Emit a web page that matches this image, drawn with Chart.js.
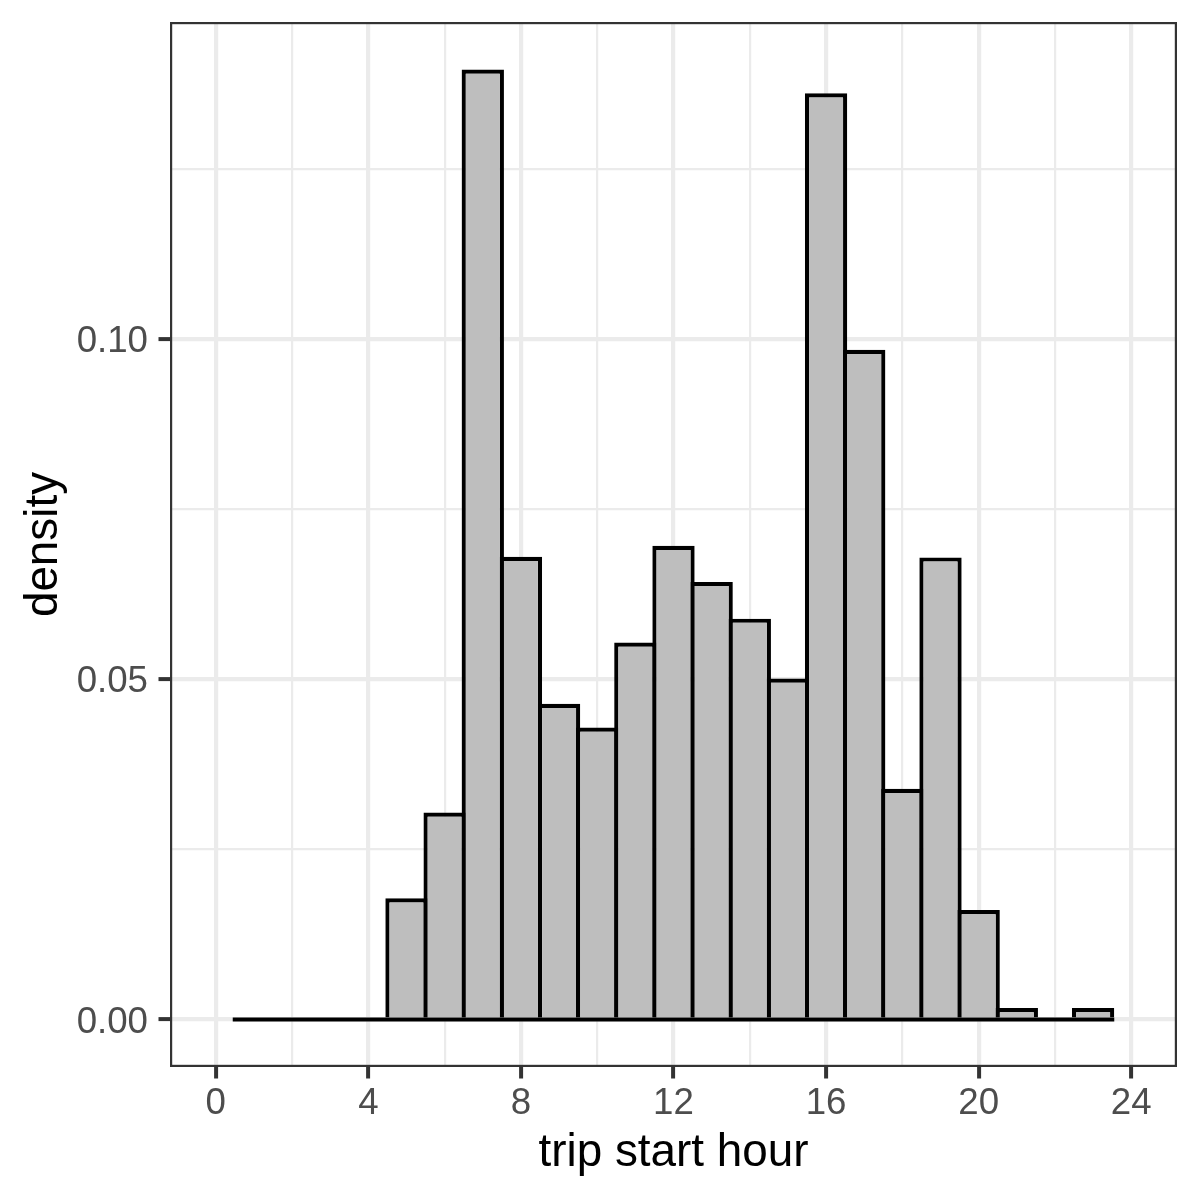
<!DOCTYPE html>
<html>
<head>
<meta charset="utf-8">
<title>trip start hour</title>
<script src="https://cdn.jsdelivr.net/npm/chart.js@4.4.1/dist/chart.umd.min.js"></script>
<style>
    html, body { margin: 0; padding: 0; background: #ffffff; }
    #wrap { width: 1200px; height: 1200px; }
</style>
</head>
<body>
<div id="wrap"><canvas id="chartHoras" width="1200" height="1200"></canvas></div>
<script>
// ==========================================
// DATA (histogram, binwidth = 1 hour)
// ==========================================
const hours = [1, 2, 3, 4, 5, 6, 7, 8, 9, 10, 11, 12, 13, 14, 15, 16, 17, 18, 19, 20, 21, 22, 23];
const density = [0, 0, 0, 0, 0.0178, 0.0304, 0.1396, 0.0680, 0.0464, 0.0429, 0.0554, 0.0696,
                 0.0643, 0.0589, 0.0501, 0.1361, 0.0984, 0.0339, 0.0679, 0.0161, 0.0017, 0, 0.0017];
const binWidth = 1;
const xTicksMajor = [0, 4, 8, 12, 16, 20, 24];
const yTicksMajor = [0, 0.05, 0.10];

// theme colours (ggplot theme_bw look)
const colorFill = '#bebebe';
const colorLine = '#000000';
const colorGrid = '#ebebeb';
const colorAxis = '#333333';
const colorTickText = '#4d4d4d';
const fontFamily = '"Liberation Sans", Arial, sans-serif';
const lineW = 4.2;

function isMajor(value, list) {
    return list.some(t => Math.abs(t - value) < 1e-9);
}

// panel border drawn on top of the bars
const panelBorder = {
    id: 'panelBorder',
    afterDatasetsDraw(chart) {
        const { ctx, chartArea: a } = chart;
        ctx.save();
        ctx.strokeStyle = colorAxis;
        ctx.lineWidth = 2.2;
        ctx.strokeRect(a.left + 1.1, a.top + 1.1, a.right - a.left - 2.2, a.bottom - a.top - 2.2);
        ctx.restore();
    }
};

// no extra room for the tick labels, the panel size is fixed
function noLabelPadding(s) {
    s.paddingTop = 0;
    s.paddingBottom = 0;
    s.paddingLeft = 0;
    s.paddingRight = 0;
}

const barData = hours.map((h, i) => ({ x: h, y: density[i] }));
const baseData = [
    { x: hours[0] - binWidth / 2, y: 0 },
    { x: hours[hours.length - 1] + binWidth / 2, y: 0 }
];

new Chart(document.getElementById('chartHoras'), {
    type: 'bar',
    data: {
        datasets: [
            {
                type: 'bar',
                data: barData,
                backgroundColor: colorFill,
                borderColor: colorLine,
                borderWidth: lineW,
                borderSkipped: 'start',
                barPercentage: 1.11,
                categoryPercentage: 1,
                inflateAmount: 0,
                order: 1
            },
            {
                type: 'line',
                data: baseData,
                borderColor: colorLine,
                borderWidth: lineW,
                borderCapStyle: 'square',
                pointRadius: 0,
                fill: false,
                order: 0
            }
        ]
    },
    options: {
        responsive: false,
        animation: false,
        layout: { padding: { left: 0, top: 22, right: 23, bottom: 0 } },
        plugins: {
            legend: { display: false },
            tooltip: { enabled: false }
        },
        scales: {
            x: {
                type: 'linear',
                min: -1.2,
                max: 25.2,
                offset: false,
                grid: {
                    offset: false,
                    color: colorGrid,
                    lineWidth: c => isMajor(c.tick.value, xTicksMajor) ? 4.2 : 2.2,
                    tickColor: c => isMajor(c.tick.value, xTicksMajor) ? colorAxis : 'rgba(0,0,0,0)',
                    tickWidth: 4,
                    tickLength: 11.5
                },
                border: { display: false },
                ticks: {
                    stepSize: 2,
                    includeBounds: false,
                    autoSkip: false,
                    maxRotation: 0,
                    padding: 3,
                    color: colorTickText,
                    font: { family: fontFamily, size: 36.67 },
                    callback: v => isMajor(v, xTicksMajor) ? String(v) : ''
                },
                title: {
                    display: true,
                    text: 'trip start hour',
                    color: '#000000',
                    font: { family: fontFamily, size: 45.83 },
                    padding: { top: 0, bottom: 18.7 }
                },
                afterFit: s => { s.height = 133; noLabelPadding(s); }
            },
            y: {
                type: 'linear',
                min: -0.00698,
                max: 0.14657,
                grid: {
                    color: colorGrid,
                    lineWidth: c => isMajor(c.tick.value, yTicksMajor) ? 4.2 : 2.2,
                    tickColor: c => isMajor(c.tick.value, yTicksMajor) ? colorAxis : 'rgba(0,0,0,0)',
                    tickWidth: 4,
                    tickLength: 11.5
                },
                border: { display: false },
                ticks: {
                    stepSize: 0.025,
                    includeBounds: false,
                    autoSkip: false,
                    padding: 10.5,
                    labelOffset: 3,
                    color: colorTickText,
                    font: { family: fontFamily, size: 36.67 },
                    callback: v => isMajor(v, yTicksMajor) ? v.toFixed(2) : ''
                },
                title: {
                    display: true,
                    text: 'density',
                    color: '#000000',
                    font: { family: fontFamily, size: 45.83 },
                    padding: { top: 16.6, bottom: 0 }
                },
                afterFit: s => { s.width = 170; noLabelPadding(s); }
            }
        }
    },
    plugins: [panelBorder]
});
</script>
</body>
</html>
